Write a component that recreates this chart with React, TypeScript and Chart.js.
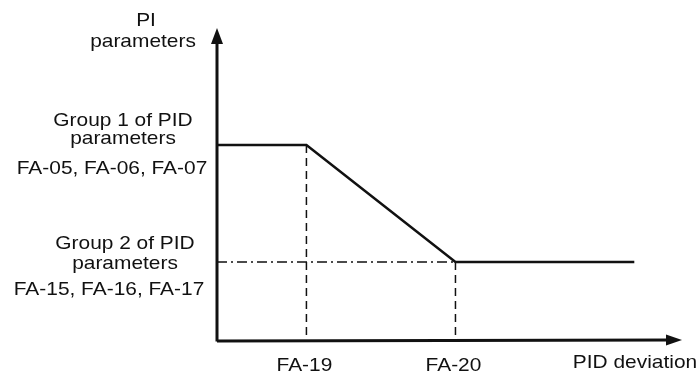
import React, { useEffect, useRef } from "react";
import { Chart, registerables } from "chart.js";

Chart.register(...registerables);

// Data (abstract units along PID deviation / PI parameter axes)
const curveX = [0, 1.5, 4, 7];
const curveY = [5, 5, 2, 2];
const xTickValues = [1.5, 4];
const xTickLabels = ["FA-19", "FA-20"];
const yTickValues = [5, 2];
const yTickLabels = [
  ["Group 1 of PID", "parameters", "FA-05, FA-06, FA-07"],
  ["Group 2 of PID", "parameters", "FA-15, FA-16, FA-17"],
];
const yAxisTitle = ["PI", "parameters"];
const xAxisTitle = "PID deviation";

const FONT = "19px 'Liberation Sans', Arial, sans-serif";
const INK = "#111111";
const STRETCH = 1.1;

function text(ctx: CanvasRenderingContext2D, s: string, x: number, y: number) {
  ctx.save();
  ctx.translate(x, y);
  ctx.scale(STRETCH, 1);
  ctx.fillText(s, 0, 0);
  ctx.restore();
}

const annotate = {
  id: "annotate",
  afterDatasetsDraw(chart: any) {
    const { ctx, chartArea, scales } = chart;
    const xs = scales.x;
    const ys = scales.y;
    const x0 = chartArea.left;
    const y0 = chartArea.bottom;
    const xEnd = chartArea.right;
    const yTop = chartArea.top;
    ctx.save();
    ctx.strokeStyle = INK;
    ctx.fillStyle = INK;
    ctx.lineWidth = 3;
    ctx.setLineDash([]);
    // axes
    ctx.beginPath();
    ctx.moveTo(x0, y0 + 1);
    ctx.lineTo(xEnd - 10, y0);
    ctx.moveTo(x0, y0 + 1.5);
    ctx.lineTo(x0, yTop + 10);
    ctx.stroke();
    // arrowheads
    ctx.beginPath();
    ctx.moveTo(xEnd, y0);
    ctx.lineTo(xEnd - 16, y0 - 5.5);
    ctx.lineTo(xEnd - 16, y0 + 5.5);
    ctx.closePath();
    ctx.fill();
    ctx.beginPath();
    ctx.moveTo(x0, yTop);
    ctx.lineTo(x0 - 6, yTop + 16);
    ctx.lineTo(x0 + 6, yTop + 16);
    ctx.closePath();
    ctx.fill();

    ctx.font = FONT;
    ctx.textAlign = "center";
    ctx.textBaseline = "middle";
    // x tick labels
    xTickValues.forEach((v, i) => {
      text(ctx, xTickLabels[i], xs.getPixelForValue(v) - 2, y0 + 26);
    });
    // x axis title
    text(ctx, xAxisTitle, 635, y0 + 23);
    // y axis title
    text(ctx, yAxisTitle[0], 146, yTop - 7);
    text(ctx, yAxisTitle[1], 143, yTop + 14);
    // y tick labels
    const offsets = [
      [-24, -6, 24],
      [-18, 2, 28],
    ];
    const centers = [
      [123, 123, 112],
      [125, 125, 109],
    ];
    yTickValues.forEach((v, i) => {
      const py = ys.getPixelForValue(v);
      yTickLabels[i].forEach((line, j) => {
        text(ctx, line, centers[i][j], py + offsets[i][j]);
      });
    });
    ctx.restore();
  },
};

export default function App() {
  const ref = useRef<HTMLCanvasElement>(null);
  useEffect(() => {
    if (!ref.current) return;
    const chart = new Chart(ref.current, {
      type: "line",
      data: {
        datasets: [
          {
            data: curveX.map((x, i) => ({ x, y: curveY[i] })),
            borderColor: INK,
            borderWidth: 2.5,
            pointRadius: 0,
            tension: 0,
          },
          {
            data: [
              { x: xTickValues[0], y: curveY[1] },
              { x: xTickValues[0], y: 0 },
            ],
            borderColor: INK,
            borderWidth: 1.5,
            borderDash: [8, 5],
            pointRadius: 0,
          },
          {
            data: [
              { x: xTickValues[1], y: curveY[2] },
              { x: xTickValues[1], y: 0 },
            ],
            borderColor: INK,
            borderWidth: 1.5,
            borderDash: [8, 5],
            pointRadius: 0,
          },
          {
            data: [
              { x: 0, y: curveY[2] },
              { x: xTickValues[1], y: curveY[2] },
            ],
            borderColor: INK,
            borderWidth: 1.5,
            borderDash: [10, 4, 2, 4],
            pointRadius: 0,
          },
        ],
      },
      options: {
        animation: false,
        responsive: false,
        layout: { padding: { left: 217, right: 17, top: 28, bottom: 34 } },
        plugins: { legend: { display: false }, tooltip: { enabled: false } },
        scales: {
          x: { type: "linear", min: 0, max: 7.8, display: false },
          y: { type: "linear", min: 0, max: 8, display: false },
        },
      },
      plugins: [annotate],
    });
    return () => chart.destroy();
  }, []);
  return (
    <div style={{ position: "fixed", left: 0, top: 0, width: 699, height: 374, background: "#fff" }}>
      <canvas ref={ref} width={699} height={374} />
    </div>
  );
}
